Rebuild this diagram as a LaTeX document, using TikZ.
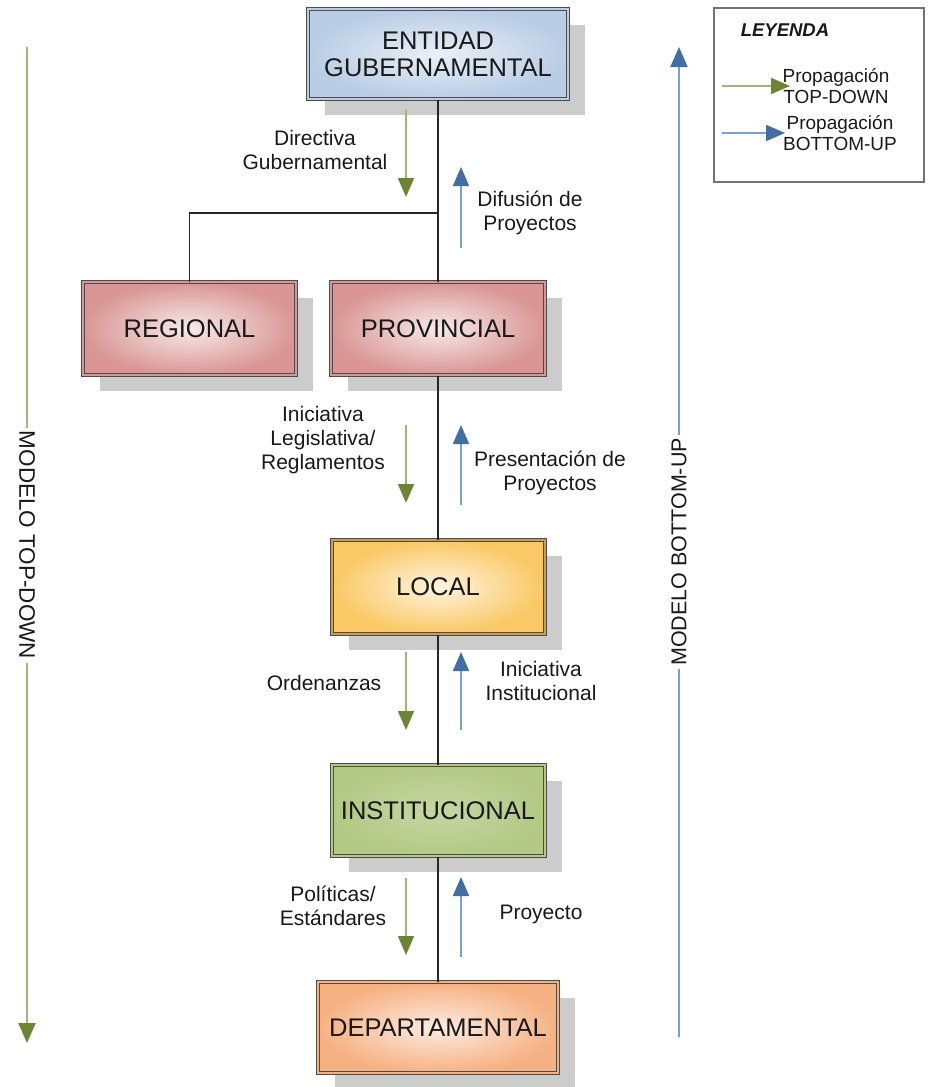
\documentclass[tikz,border=0pt]{standalone}
\usepackage{fontspec}
\setmainfont{Liberation Sans}
\usetikzlibrary{arrows.meta, shadows}

\definecolor{tdgreen}{HTML}{77933C}
\definecolor{bublue}{HTML}{4F81BD}
\definecolor{govblue}{HTML}{B9CDE5}
\definecolor{regpink}{HTML}{D99694}
\definecolor{locgold}{HTML}{FAC864}
\definecolor{instgreen}{HTML}{B3C985}
\definecolor{deporange}{HTML}{F6B183}

\begin{document}
\begin{tikzpicture}[
            x = 1pt, y = -1pt, % pixel-like units, y grows downward
            semithick % line style
        ]

        \tikzstyle{level}=[
            rectangle,
            draw = black!70,
            line width = 1pt,
            double distance = 2pt,
            align = center,
            text = black!90,
            font = \fontsize{25.5}{27}\selectfont,
            drop shadow = {shadow xshift=17pt, shadow yshift=-16pt, fill=black!20, opacity=1}
        ]
        \tikzstyle{lbl}=[align = center, text = black!90, font = \fontsize{21}{24}\selectfont]
        \tikzstyle{tdarrow}=[tdgreen!70, line width = 1.8pt,
            -{Triangle[length=19pt, width=16pt, color=tdgreen!90!black]}]
        \tikzstyle{buarrow}=[bublue!75, line width = 1.8pt,
            -{Triangle[length=19pt, width=16pt, color=bublue!85!black]}]

        \useasboundingbox (0,0) rectangle (929,1087);

        % the levels
        \node[level, double=govblue, inner color=govblue!30, outer color=govblue,
              minimum width=260pt, minimum height=90pt] (entidad) at (438,54) {ENTIDAD\\GUBERNAMENTAL};
        \node[level, double=regpink, inner color=regpink!20, outer color=regpink,
              minimum width=213pt, minimum height=93pt] (regional) at (189.5,328.5) {REGIONAL};
        \node[level, double=regpink, inner color=regpink!20, outer color=regpink,
              minimum width=214pt, minimum height=93pt] (provincial) at (438,328.5) {PROVINCIAL};
        \node[level, double=locgold!80!black, inner color=locgold!20, outer color=locgold,
              minimum width=213pt, minimum height=94pt] (local) at (438,587) {LOCAL};
        \node[level, double=instgreen, inner color=instgreen!75, outer color=instgreen,
              minimum width=213pt, minimum height=91pt] (institucional) at (438,810.5) {INSTITUCIONAL};
        \node[level, double=deporange, inner color=deporange!25, outer color=deporange,
              minimum width=240pt, minimum height=91pt] (departamental) at (438,1027.5) {DEPARTAMENTAL};

        % hierarchy lines
        \coordinate (junction) at (438,213);
        \draw[line width=1.4pt, black!85] (entidad) -- (junction) -| (regional);
        \draw[line width=1.4pt, black!85] (junction) -- (provincial);
        \draw[line width=1.4pt, black!85] (provincial) -- (local);
        \draw[line width=1.4pt, black!85] (local) -- (institucional);
        \draw[line width=1.4pt, black!85] (institucional) -- (departamental);

        % short propagation arrows
        \foreach \n/\ya/\yb in {1/110/197, 2/425/503, 3/652/730, 4/878/955} {
            \coordinate (td\n s) at (406,\ya);
            \coordinate (td\n e) at (406,\yb);
            \draw[tdarrow] (td\n s) -- (td\n e);
        }
        \foreach \n/\ya/\yb in {1/248/167, 2/505/425, 3/730/652, 4/957/877} {
            \coordinate (bu\n s) at (461,\ya);
            \coordinate (bu\n e) at (461,\yb);
            \draw[buarrow] (bu\n s) -- (bu\n e);
        }

        % arrow labels
        \node[lbl] (directiva) at (315,150) {Directiva\\Gubernamental};
        \node[lbl] (difusion) at (530,213) {Difusión de\\Proyectos};
        \node[lbl] (iniciativa) at (323,440) {Iniciativa\\Legislativa/\\Reglamentos};
        \node[lbl] (presentacion) at (550,473) {Presentación de\\Proyectos};
        \node[lbl] (ordenanzas) at (324,683) {Ordenanzas};
        \node[lbl] (inicinst) at (541,681) {Iniciativa\\Institucional};
        \node[lbl] (politicas) at (333,906) {Políticas/\\Estándares};
        \node[lbl] (proyecto) at (541,914) {Proyecto};

        % the two models
        \coordinate (tdtop) at (27,47);
        \coordinate (tdbot) at (27,1043);
        \draw[tdgreen!70, line width=2.3pt, -{Triangle[length=20pt, width=17pt, color=tdgreen!90!black]}] (tdtop) -- (tdbot)
            node[midway, fill=white, rotate=-90, text=black!90, font=\fontsize{22.5}{25}\selectfont] (tdtext) {MODELO TOP-DOWN};
        \coordinate (bubot) at (679,1037);
        \coordinate (butop) at (679,47);
        \draw[bublue!75, line width=2.3pt, -{Triangle[length=20pt, width=17pt, color=bublue!85!black]}] (bubot) -- (butop)
            node[pos=0.49, fill=white, rotate=90, text=black!90, font=\fontsize{21.5}{24}\selectfont] (butext) {MODELO BOTTOM-UP};

        % legend
        \node[draw=black!55, line width=1.5pt, minimum width=210pt, minimum height=174pt] (legbox) at (819,95) {};
        \node[font=\fontsize{18.5}{21}\selectfont\bfseries\itshape, text=black!90] (leyenda) at (785,30) {LEYENDA};
        \coordinate (leg1s) at (722,86);
        \coordinate (leg1e) at (790,86);
        \draw[tdarrow] (leg1s) -- (leg1e);
        \node[lbl, font=\fontsize{19}{21.5}\selectfont] (leg1) at (836,86) {Propagación\\TOP-DOWN};
        \coordinate (leg2s) at (722,133);
        \coordinate (leg2e) at (785,133);
        \draw[buarrow] (leg2s) -- (leg2e);
        \node[lbl, font=\fontsize{19}{21.5}\selectfont] (leg2) at (840,133) {Propagación\\BOTTOM-UP};
\end{tikzpicture}
\end{document}
